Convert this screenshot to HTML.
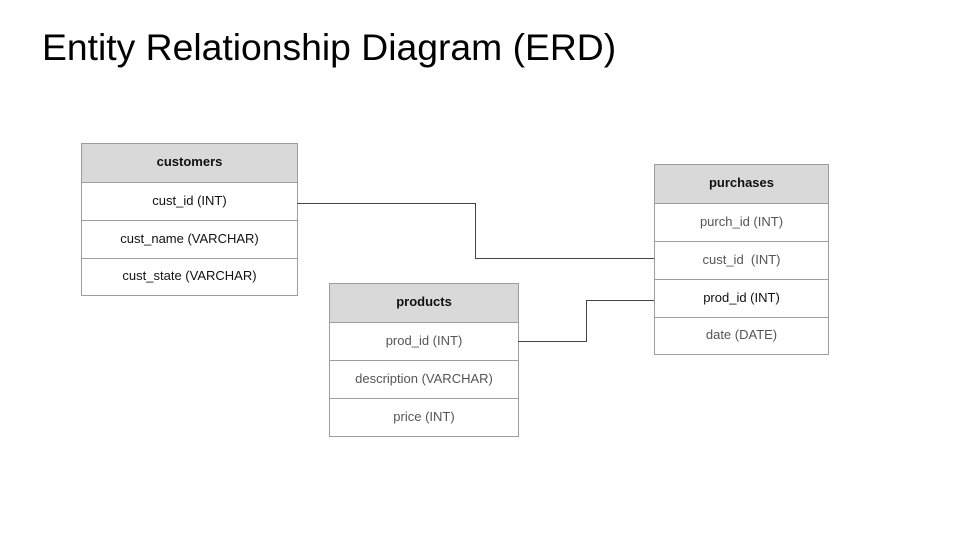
<!DOCTYPE html>
<html><head><meta charset="utf-8"><style>
body{margin:0;width:960px;height:540px;background:#fff;position:relative;overflow:hidden;font-family:"Liberation Sans",sans-serif}
.t{position:absolute;left:42px;top:26px;font-size:37.3px;color:#000;white-space:nowrap}
.tb{position:absolute;border:1px solid #9e9e9e;box-sizing:border-box}
.r{box-sizing:border-box;border-top:1px solid #9e9e9e;display:flex;align-items:center;justify-content:center;font-size:13px;color:#555;padding-bottom:3px}
.r:first-child{border-top:none;background:#d9d9d9;font-weight:bold;color:#111}
.k{color:#111}
.ln{position:absolute;background:#444}
</style></head><body>
<div class="t">Entity Relationship Diagram (ERD)</div>
<div class="tb" style="left:81px;top:143px;width:217px;height:153px">
<div class="r" style="height:38px">customers</div>
<div class="r k" style="height:38px">cust_id (INT)</div>
<div class="r k" style="height:38px">cust_name (VARCHAR)</div>
<div class="r k" style="height:37px">cust_state (VARCHAR)</div>
</div>
<div class="tb" style="left:329px;top:283px;width:190px;height:154px">
<div class="r" style="height:38px">products</div>
<div class="r" style="height:38px">prod_id (INT)</div>
<div class="r" style="height:38px">description (VARCHAR)</div>
<div class="r" style="height:38px">price (INT)</div>
</div>
<div class="tb" style="left:654px;top:164px;width:175px;height:191px">
<div class="r" style="height:38px">purchases</div>
<div class="r" style="height:38px">purch_id (INT)</div>
<div class="r" style="height:38px">cust_id&nbsp; (INT)</div>
<div class="r k" style="height:38px">prod_id (INT)</div>
<div class="r" style="height:37px">date (DATE)</div>
</div>
<div class="ln" style="left:297px;top:203px;width:179px;height:1px"></div>
<div class="ln" style="left:475px;top:203px;width:1px;height:56px"></div>
<div class="ln" style="left:475px;top:258px;width:179px;height:1px"></div>
<div class="ln" style="left:518px;top:341px;width:69px;height:1px"></div>
<div class="ln" style="left:586px;top:300px;width:1px;height:42px"></div>
<div class="ln" style="left:586px;top:300px;width:68px;height:1px"></div>
</body></html>
